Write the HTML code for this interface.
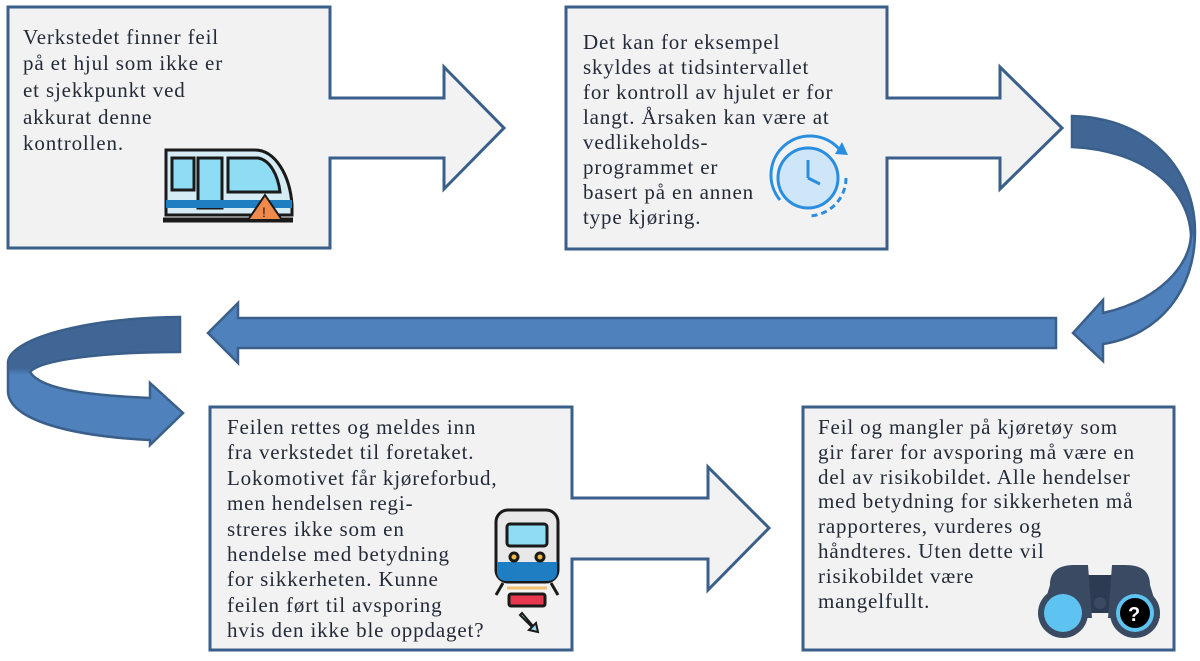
<!DOCTYPE html>
<html><head><meta charset="utf-8"><style>
html,body{margin:0;padding:0;background:#fff;width:1200px;height:661px;overflow:hidden}
svg text{font-family:"Liberation Serif",serif;font-size:21px;letter-spacing:0.85px;fill:#232a38}
</style></head><body>
<svg width="1200" height="661" viewBox="0 0 1200 661" xmlns="http://www.w3.org/2000/svg">
<defs>
<linearGradient id="rg" x1="0" y1="0" x2="0" y2="1">
<stop offset="0" stop-color="#3f6695"/><stop offset="0.48" stop-color="#3f6695"/><stop offset="0.5" stop-color="#4f81bd"/><stop offset="1" stop-color="#4f81bd"/></linearGradient>
<linearGradient id="lg" x1="0" y1="0" x2="0" y2="1">
<stop offset="0" stop-color="#3f6695"/><stop offset="0.4" stop-color="#3f6695"/><stop offset="0.45" stop-color="#4f81bd"/><stop offset="1" stop-color="#4f81bd"/></linearGradient>
</defs>
<g fill="#f2f2f2" stroke="#3a5f8a" stroke-width="3" stroke-linejoin="miter">
<path d="M8,7 L330,7 L330,98 L444,98 L444,67 L504,128 L444,189 L444,158 L330,158 L330,248 L8,248 Z"/>
<path d="M566,7 L887,7 L887,98 L1000,98 L1000,67 L1062,128 L1000,189 L1000,158 L887,158 L887,249 L566,249 Z"/>
<path d="M210,407 L572,407 L572,498 L708,498 L708,467 L769,528 L708,590 L708,559 L572,559 L572,650 L210,650 Z"/>
<rect x="803" y="407" width="371" height="243"/>
</g>
<g stroke="#3a5f8a" stroke-width="2.5">
<path fill="#4f81bd" d="M1056,318 L238,318 L238,303 L208,333 L238,363 L238,348 L1056,348 Z"/>
<path fill="url(#rg)" d="M1072,116 C1150,118 1195,170 1195,232 C1195,290 1160,335 1103,344 L1103,361 L1073,333 L1103,300 L1103,313 C1160,300 1190,265 1191,235 C1188,185 1140,150 1072,147 Z"/>
<path fill="url(#lg)" d="M180,317 C80,318 10,340 8,362 L8,392 C10,420 70,436 150,440 L150,445 L183,413 L150,383 L150,398 C80,395 40,388 30,372 C40,360 100,352 180,352 Z"/>
</g>
<text x="23" y="44">Verkstedet finner feil</text>
<text x="23" y="70">på et hjul som ikke er</text>
<text x="23" y="97">et sjekkpunkt ved</text>
<text x="23" y="124">akkurat denne</text>
<text x="23" y="150">kontrollen.</text>
<text x="583" y="49">Det kan for eksempel</text>
<text x="583" y="74">skyldes at tidsintervallet</text>
<text x="583" y="99">for kontroll av hjulet er for</text>
<text x="583" y="124">langt. Årsaken kan være at</text>
<text x="583" y="149">vedlikeholds-</text>
<text x="583" y="174">programmet er</text>
<text x="583" y="199">basert på en annen</text>
<text x="583" y="224">type kjøring.</text>
<text x="227" y="434">Feilen rettes og meldes inn</text>
<text x="227" y="459">fra verkstedet til foretaket.</text>
<text x="227" y="485">Lokomotivet får kjøreforbud,</text>
<text x="227" y="510">men hendelsen regi-</text>
<text x="227" y="536">streres ikke som en</text>
<text x="227" y="561">hendelse med betydning</text>
<text x="227" y="586">for sikkerheten. Kunne</text>
<text x="227" y="612">feilen ført til avsporing</text>
<text x="227" y="637">hvis den ikke ble oppdaget?</text>
<text x="818" y="434">Feil og mangler på kjøretøy som</text>
<text x="818" y="459">gir farer for avsporing må være en</text>
<text x="818" y="484">del av risikobildet. Alle hendelser</text>
<text x="818" y="508">med betydning for sikkerheten må</text>
<text x="818" y="533">rapporteres, vurderes og</text>
<text x="818" y="558">håndteres. Uten dette vil</text>
<text x="818" y="583">risikobildet være</text>
<text x="818" y="608">mangelfullt.</text>
<g stroke="#1a1a1a" stroke-width="3">
<path d="M166,150 L255,150 C275,150 290,175 292,205 L292,215 L166,215 Z" fill="#d6ecf5"/>
<rect x="172" y="158" width="22" height="32" fill="#8fdcf5"/>
<rect x="198" y="158" width="24" height="50" fill="#8fdcf5"/>
<path d="M228,158 L258,158 C270,160 278,175 280,192 L228,192 Z" fill="#8fdcf5"/>
<rect x="166" y="200" width="126" height="8" fill="#1f7dc2" stroke="none"/>
<line x1="163" y1="220" x2="293" y2="220" stroke-width="5"/>
</g>
<path d="M265,195 L282,220 L248,220 Z" fill="#f08a4b" stroke="#1a1a1a" stroke-width="2"/>
<text x="262" y="217" style="font-size:14px;letter-spacing:0;font-family:'Liberation Sans',sans-serif;fill:#1a1a1a">!</text>
<g fill="none" stroke="#2a8ee0" stroke-width="3">
<circle cx="808" cy="178" r="30" fill="#cfe6f8"/>
<path d="M780,200 A38,38 0 0 1 840,150"/>
<path d="M846,178 A38,38 0 0 1 808,216" stroke-dasharray="6 4"/>
<path d="M808,178 L808,160 M808,178 L820,184"/>
</g>
<path d="M842,142 L848,155 L835,154 Z" fill="#2a8ee0"/>
<g stroke="#1a1a1a" stroke-width="3">
<rect x="496" y="510" width="62" height="72" rx="12" fill="#e8e8e8"/>
<rect x="507" y="524" width="40" height="22" rx="3" fill="#8fdcf5"/>
<path d="M497,562 L557,562 L557,572 C557,578 553,581 547,581 L507,581 C501,581 497,578 497,572 Z" fill="#1f7dc2" stroke="none"/>
<circle cx="514" cy="557" r="4" fill="#f0b94a"/><circle cx="540" cy="557" r="4" fill="#f0b94a"/>
<path d="M503,583 L496,595 M551,583 L558,595"/>
<line x1="507" y1="588" x2="547" y2="588" stroke="#f0c070"/>
<rect x="509" y="594" width="36" height="12" rx="2" fill="#e8374d"/>
<path d="M520,615 L532,627 L529,630 L538,632 L536,623 L533,626 L522,613 Z" fill="#8fdcf5" stroke-width="2"/>
</g>
<g>
<rect x="1080" y="575" width="40" height="38" fill="#2c3a52"/>
<path d="M1050,585 C1050,570 1060,565 1075,565 L1088,565 L1092,618 L1040,618 Z" fill="#3b4a63"/>
<path d="M1150,585 C1150,570 1140,565 1125,565 L1112,565 L1108,618 L1160,618 Z" fill="#3b4a63"/>
<circle cx="1063" cy="613" r="25" fill="#3b4a63"/><circle cx="1063" cy="613" r="19" fill="#5ec3f0"/>
<circle cx="1135" cy="613" r="25" fill="#3b4a63"/><circle cx="1135" cy="613" r="19" fill="#5ec3f0"/>
<circle cx="1135" cy="613" r="15" fill="#000"/>
<circle cx="1100" cy="603" r="6" fill="#3b4a63"/>
<text x="1128" y="621" style="font-size:20px;letter-spacing:0;font-family:'Liberation Sans',sans-serif;font-weight:bold;fill:#fff">?</text>
</g>
</svg>
</body></html>
